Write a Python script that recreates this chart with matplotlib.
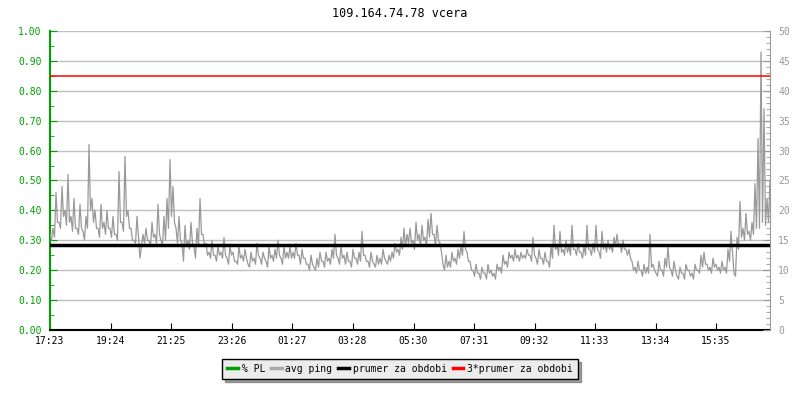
import numpy as np
import matplotlib.pyplot as plt
from matplotlib.lines import Line2D
from matplotlib.ticker import MultipleLocator

title = '109.164.74.78 vcera'
tick_labels = ['17:23', '19:24', '21:25', '23:26', '01:27', '03:28',
               '05:30', '07:31', '09:32', '11:33', '13:34', '15:35']

# avg ping [ms], one slot every 6 minutes
# ping = top of the grey band in the slot, ping_lo = bottom of it
ping = [16, 17, 23, 18, 24, 20, 26, 19, 22, 17,
        21, 16.5, 19, 31, 22, 20, 17, 21, 18, 20,
        17, 19, 16, 26.5, 18, 29, 20, 17, 15, 19,
        12, 16, 17, 15, 18, 16, 21, 15, 19, 22,
        28.5, 24, 17, 19, 14.5, 17.5, 15, 18, 14, 17,
        22, 16, 14.5, 13, 15, 12.5, 14, 13, 15.5, 12,
        14, 13, 11.5, 14, 12.5, 13.5, 11, 13, 12, 14.5,
        12, 13, 11.5, 14, 12.5, 13.5, 15, 12, 14, 13,
        14, 13, 14.5, 12.5, 13.5, 12, 11, 12.5, 10.5, 12,
        13, 11.5, 13, 12, 13.5, 16, 12, 14, 12.5, 13,
        11.5, 13.5, 12, 13, 16.5, 12.5, 11.5, 13, 11, 12.5,
        12, 13.5, 11.5, 12.5, 13, 14.5, 13.5, 15.5, 17, 16,
        17, 15, 18, 16, 17.5, 15.5, 18.5, 19.5, 16, 17.5,
        14.5, 11, 12.5, 11.5, 13, 12, 13.5, 14, 16.5, 13,
        11.5, 10, 11, 9.5, 10.5, 9.5, 11, 10, 9.5, 11,
        10.5, 12.5, 11.5, 13, 12.5, 13.5, 12.5, 13, 12.5, 13.5,
        12.5, 15.5, 12, 13.5, 12, 13, 11.5, 14, 17.5, 14,
        16.5, 13.5, 15, 14, 17.5, 13.5, 14.5, 13, 14, 17.5,
        13.5, 14.5, 17.5, 13, 16.5, 14.5, 15, 14, 15.5, 16,
        14.5, 15, 13.5, 13.5, 11.5, 10.5, 11.5, 10, 11, 10.5,
        16, 11, 9.5, 11.5, 10, 12, 14, 10, 11.5, 9,
        10.5, 9.5, 11, 10, 9.5, 11, 10, 12.5, 13, 11,
        10.5, 12, 11, 10.5, 11.5, 10.5, 13.5, 16.5, 9.5, 15.5,
        21.5, 17, 19.5, 16.5, 18, 24.5, 32, 46.5, 37, 22,
        25]
ping_lo = [15, 15.5, 18, 17, 19, 17.5, 18, 16.5, 17, 16,
           17, 15, 17, 20, 18, 17, 15.5, 17, 16, 17,
           15.5, 16, 15, 18, 16.5, 19, 17, 15, 14.5, 15.5,
           14, 14.5, 15, 14, 15.5, 14.5, 16, 14, 15, 17,
           19, 18, 14.5, 15, 11.5, 14, 13.5, 14.5, 12, 14,
           16, 14, 12.5, 12, 12.5, 11.5, 12.5, 12, 12.5, 11,
           12.5, 11.5, 11, 12, 11.5, 12, 10.5, 11.5, 11, 12.5,
           11, 12, 10.5, 12, 11.5, 12, 12.5, 11, 12, 12,
           12, 12, 12.5, 11, 12, 11, 10, 11, 10, 10.5,
           11.5, 10.5, 11.5, 11, 12, 12.5, 11, 12, 11, 11.5,
           10.5, 12, 11, 11.5, 12.5, 11.5, 10.5, 11.5, 10.5, 11,
           11, 12, 11, 11.5, 12, 13, 12.5, 13.5, 14, 14.5,
           14.5, 13.5, 15, 14, 15, 14, 15.5, 16, 14, 15,
           13, 10, 10.5, 10.5, 11.5, 11, 12, 12.5, 13.5, 11.5,
           10, 9, 9.5, 8.5, 9.5, 8.5, 9.5, 9, 8.5, 10,
           9.5, 11, 10.5, 12, 11.5, 12, 11.5, 12, 12, 12.5,
           11.5, 12.5, 11, 12, 11, 11.5, 10.5, 12, 13.5, 12.5,
           13, 12.5, 13, 12.5, 13.5, 12.5, 13, 12, 12.5, 13.5,
           12.5, 13, 13.5, 12, 13.5, 13, 13.5, 13, 14, 14,
           13, 13.5, 12.5, 12, 10, 9.5, 10, 9, 9.5, 9.5,
           10.5, 10, 9, 10, 9, 10.5, 10.5, 9, 10, 8.5,
           9.5, 8.5, 10, 9, 8.5, 10, 9.5, 10.5, 11, 10,
           9.5, 10.5, 10, 9.5, 10, 9.5, 11.5, 13, 9, 13.5,
           15.5, 15, 16, 15, 16, 17, 17, 18, 17.5, 18,
           20]
avg_ping = 14.15        # prumer za obdobi
avg_ping_x3 = 42.45     # 3*prumer za obdobi

green = '#00a000'
grey = '#999999'
plt.rcParams['font.family'] = 'DejaVu Sans Mono'

fig = plt.figure(figsize=(8, 4), dpi=100)
ax = fig.add_axes([0.0625, 0.175, 0.9, 0.7475])
ax2 = ax.twinx()

# interleave top/bottom of each slot so the line fills the band like the original
slot = np.linspace(0, 1440, len(ping))
half = slot[1] - slot[0]
xs = np.column_stack([slot, slot + half/2]).ravel()[:-1]
ys = np.column_stack([ping, ping_lo]).ravel()[:-1]
ax2.plot(xs, ys, color=grey, lw=0.9, zorder=2)
ax2.axhline(avg_ping, color='black', lw=2.5, zorder=3)
ax2.axhline(avg_ping_x3, color='red', lw=1.1, zorder=3)

# x ticks: minutes after 17:23
start = 17*60 + 23
tick_pos = []
for t in tick_labels:
    h, m = t.split(':')
    tick_pos.append((int(h)*60 + int(m) - start) % 1440)
ax.set_xticks(tick_pos)
ax.set_xticklabels(tick_labels, fontsize=7)
ax.set_xlim(0, 1440)

ax.set_ylim(0, 1)
ax.yaxis.set_major_locator(MultipleLocator(0.1))
ax.yaxis.set_minor_locator(MultipleLocator(0.05))
ax.set_yticklabels(['%.2f' % v for v in ax.get_yticks()])
ax2.set_ylim(0, 50)
ax2.yaxis.set_major_locator(MultipleLocator(5))
ax2.yaxis.set_minor_locator(MultipleLocator(1))

ax.grid(axis='y', color='#c0c0c0', lw=1)
ax.tick_params(axis='y', colors=green, direction='in', length=5, labelsize=7, pad=6)
ax.tick_params(axis='y', which='minor', colors=green, direction='in', length=3)
ax.tick_params(axis='x', direction='in', length=5, labelsize=7, pad=4)
ax2.tick_params(axis='y', colors=grey, direction='in', length=5, labelsize=7, pad=6)
ax2.tick_params(axis='y', which='minor', colors=grey, direction='in', length=3)

for a in (ax, ax2):
    a.spines['top'].set_visible(False)
ax.spines['left'].set_color(green)
ax.spines['left'].set_linewidth(1.5)
ax2.spines['left'].set_visible(False)
ax.spines['right'].set_visible(False)
ax2.spines['right'].set_color(grey)
ax2.spines['bottom'].set_visible(False)
ax.spines['bottom'].set_linewidth(1.5)

fig.text(0.5, 0.967, title, ha='center', va='center', fontsize=8.5)

handles = [Line2D([], [], color=green, lw=2.5),
           Line2D([], [], color='#aaaaaa', lw=2.5),
           Line2D([], [], color='black', lw=2.5),
           Line2D([], [], color='red', lw=2.5)]
labels = ['% PL', 'avg ping', 'prumer za obdobi', '3*prumer za obdobi']
leg = fig.legend(handles, labels, loc='upper center', bbox_to_anchor=(0.5, 0.1025),
                 ncol=4, fontsize=7, frameon=True, fancybox=False, shadow=True,
                 handlelength=1.1, handletextpad=0.4, columnspacing=0.6,
                 borderpad=0.5, borderaxespad=0)
leg.get_frame().set_facecolor('#ececec')
leg.get_frame().set_edgecolor('black')
leg.get_frame().set_alpha(1)

plt.savefig('out.png', dpi=100)
